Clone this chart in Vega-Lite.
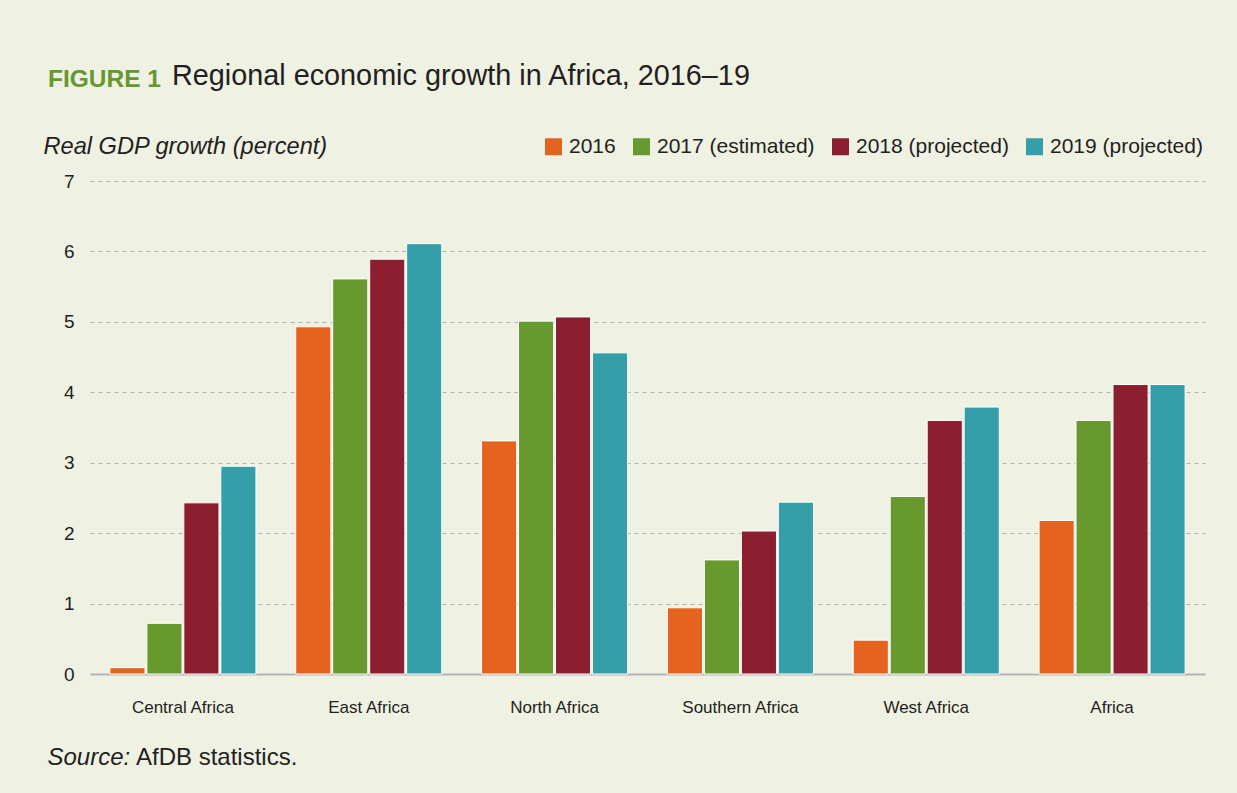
{
  "$schema": "https://vega.github.io/schema/vega-lite/v6.json",
  "background": "#eff1e2",
  "padding": {"left": 43, "top": 62, "right": 32, "bottom": 25},
  "config": {
    "view": {"stroke": null},
    "font": "Liberation Sans"
  },
  "title": {
    "text": "FIGURE 1",
    "anchor": "start",
    "color": "#67972f",
    "font": "Liberation Sans",
    "fontSize": 24.5,
    "fontWeight": "bold",
    "dx": 5,
    "dy": 34
  },
  "vconcat": [
    {
      "title": {
        "text": "Regional economic growth in Africa, 2016–19",
        "anchor": "start",
        "color": "#231f20",
        "font": "Liberation Sans",
        "fontSize": 28.8,
        "fontWeight": "normal",
        "dx": 129,
        "offset": 43
      },
      "vconcat": [
        {
          "width": 1115,
          "height": 493,
          "title": {
            "text": "AfDB statistics.",
            "orient": "bottom",
            "anchor": "start",
            "color": "#231f20",
            "font": "Liberation Sans",
            "fontSize": 24,
            "fontWeight": "normal",
            "dx": 93,
            "dy": -27
          },
          "data": {
            "values": [
              {"region": "Central Africa", "year": "2016", "value": 0.09},
              {"region": "Central Africa", "year": "2017 (estimated)", "value": 0.72},
              {"region": "Central Africa", "year": "2018 (projected)", "value": 2.43},
              {"region": "Central Africa", "year": "2019 (projected)", "value": 2.95},
              {"region": "East Africa", "year": "2016", "value": 4.93},
              {"region": "East Africa", "year": "2017 (estimated)", "value": 5.61},
              {"region": "East Africa", "year": "2018 (projected)", "value": 5.89},
              {"region": "East Africa", "year": "2019 (projected)", "value": 6.11},
              {"region": "North Africa", "year": "2016", "value": 3.31},
              {"region": "North Africa", "year": "2017 (estimated)", "value": 5.01},
              {"region": "North Africa", "year": "2018 (projected)", "value": 5.07},
              {"region": "North Africa", "year": "2019 (projected)", "value": 4.56},
              {"region": "Southern Africa", "year": "2016", "value": 0.94},
              {"region": "Southern Africa", "year": "2017 (estimated)", "value": 1.62},
              {"region": "Southern Africa", "year": "2018 (projected)", "value": 2.03},
              {"region": "Southern Africa", "year": "2019 (projected)", "value": 2.44},
              {"region": "West Africa", "year": "2016", "value": 0.48},
              {"region": "West Africa", "year": "2017 (estimated)", "value": 2.52},
              {"region": "West Africa", "year": "2018 (projected)", "value": 3.6},
              {"region": "West Africa", "year": "2019 (projected)", "value": 3.79},
              {"region": "Africa", "year": "2016", "value": 2.18},
              {"region": "Africa", "year": "2017 (estimated)", "value": 3.6},
              {"region": "Africa", "year": "2018 (projected)", "value": 4.11},
              {"region": "Africa", "year": "2019 (projected)", "value": 4.11}
            ]
          },
          "mark": {"type": "bar", "stroke": "#ffffff", "strokeWidth": 1},
          "encoding": {
            "x": {
              "field": "region",
              "type": "nominal",
              "sort": ["Central Africa", "East Africa", "North Africa", "Southern Africa", "West Africa", "Africa"],
              "scale": {"paddingInner": 0.214, "paddingOuter": 0.107},
              "axis": {
                "title": "Source:",
                "titleFont": "Liberation Sans",
                "titleFontStyle": "italic",
                "titleFontWeight": "normal",
                "titleFontSize": 24,
                "titleColor": "#231f20",
                "titleAnchor": "start",
                "titleAlign": "left",
                "titleBaseline": "alphabetic",
                "titleX": -43,
                "titleY": 90,
                "labelAngle": 0,
                "labelFont": "Liberation Sans",
                "labelFontSize": 17,
                "labelColor": "#231f20",
                "labelPadding": 25,
                "ticks": false,
                "domainColor": "#b5b5b5",
                "domainWidth": 2
              }
            },
            "xOffset": {
              "field": "year",
              "type": "nominal",
              "scale": {"paddingInner": 0.05, "paddingOuter": 0}
            },
            "y": {
              "field": "value",
              "type": "quantitative",
              "scale": {"domain": [0, 7], "nice": false},
              "axis": {
                "values": [0, 1, 2, 3, 4, 5, 6, 7],
                "title": "Real GDP growth (percent)",
                "titleFont": "Liberation Sans",
                "titleFontStyle": "italic",
                "titleFontWeight": "normal",
                "titleFontSize": 23.6,
                "titleColor": "#231f20",
                "titleAngle": 0,
                "titleAlign": "left",
                "titleBaseline": "middle",
                "titleX": -47,
                "titleY": -35,
                "labelFont": "Liberation Sans",
                "labelFontSize": 19,
                "labelColor": "#231f20",
                "labelPadding": 16,
                "domain": false,
                "ticks": false,
                "grid": true,
                "gridColor": "#b0b0b0",
                "gridDash": [4, 4],
                "gridWidth": 1
              }
            },
            "color": {
              "field": "year",
              "type": "nominal",
              "scale": {
                "domain": ["2016", "2017 (estimated)", "2018 (projected)", "2019 (projected)"],
                "range": ["#e5621f", "#68992f", "#8b1f30", "#349fa9"]
              },
              "legend": {
                "title": null,
                "orient": "none",
                "direction": "horizontal",
                "legendX": 453,
                "legendY": -45,
                "symbolType": "square",
                "symbolSize": 289,
                "symbolStrokeWidth": 0,
                "labelFont": "Liberation Sans",
                "labelFontSize": 21,
                "labelColor": "#231f20",
                "labelOffset": 5,
                "columnPadding": 15
              }
            }
          }
        }
      ]
    }
  ]
}
